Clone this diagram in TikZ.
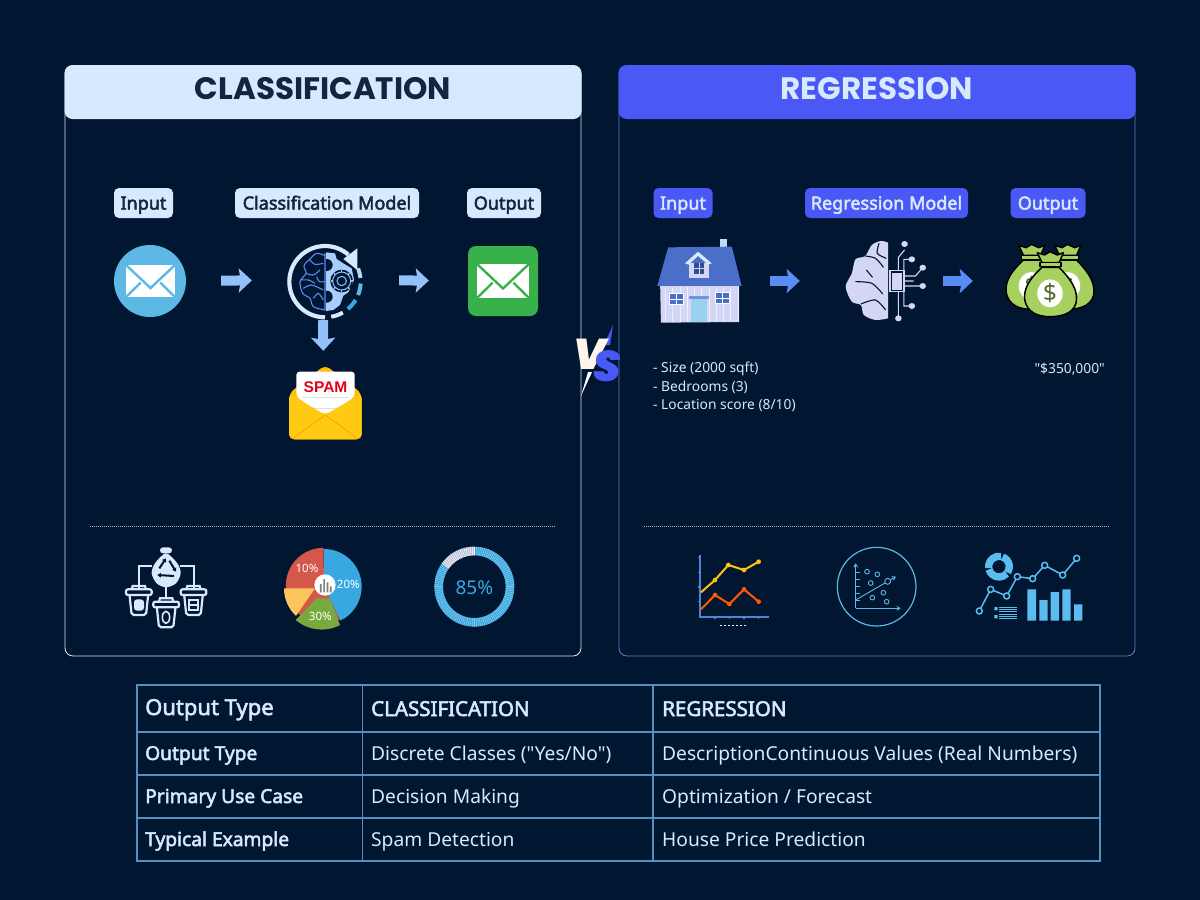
\documentclass[tikz,border=0pt]{standalone}
\usepackage{fontspec}
\usetikzlibrary{arrows.meta}
\newfontfamily\bodyfont{Noto Sans}
\newfontfamily\midfont{Noto Sans}[FakeBold=2.6]
\newfontfamily\headfont{Poppins}
\newfontfamily\versusfont{Poppins Black Italic}
\newfontfamily\spamfont{Liberation Sans}
\definecolor{Navy}{HTML}{011631}
\definecolor{Ice}{HTML}{D6E9FD}
\definecolor{Ink}{HTML}{14233F}
\definecolor{Indigo}{HTML}{4A58F6}
\definecolor{Sky}{HTML}{5DB8E6}
\definecolor{Azure}{HTML}{3AA8E0}
\definecolor{Mint}{HTML}{38B14A}
\definecolor{Lilac}{HTML}{D3D7F5}
\definecolor{Roof}{HTML}{4A6FC9}
\definecolor{Cash}{HTML}{A6D15F}
\definecolor{Rule}{HTML}{5590BE}
\definecolor{Gold}{HTML}{FFCB12}
\definecolor{PaleArrow}{HTML}{93C2FB}
\definecolor{BlueArrow}{HTML}{5A8CF5}
\definecolor{Tomato}{HTML}{D3574A}
\definecolor{Melon}{HTML}{FDC65C}
\definecolor{Grass}{HTML}{77A93D}
\definecolor{Bar}{HTML}{5BBCF0}
\newcommand\fsize[1]{\fontsize{#1}{#1}\selectfont}
% left, top, width, height, colour of the folds
\newcommand\mailglyph[5]{
  \begin{scope}[shift={(#1,#2)},xscale=#3,yscale=#4]
    \fill[white] (0,0) rectangle (1,1);
    \draw[#5,line width=2.4pt] (0,0) -- (.5,.72) -- (1,0);
    \draw[#5,line width=2.4pt] (0,1) -- (.3,.55) (1,1) -- (.7,.55);
  \end{scope}}
% shift and name of the dollar sign
\newcommand\moneybag[3]{
  \begin{scope}[shift={(#1,#2)}]
    \draw[fill=Cash,line width=1.5pt,line join=round]
      (1298,292) .. controls (1270,320) and (1248,350) .. (1250,385)
      .. controls (1255,430) and (1290,440) .. (1320,440)
      .. controls (1360,440) and (1393,425) .. (1393,385)
      .. controls (1393,350) and (1370,320) .. (1345,292) -- cycle;
    \draw[fill=Cash,line width=1.5pt,line join=round]
      (1298,278) -- (1285,248) -- (1305,255) -- (1320,245)
      -- (1340,255) -- (1357,248) -- (1345,278) -- cycle;
    \draw[fill=Cash,line width=1.5pt] (1292,278) rectangle (1350,290);
    \fill[white] (1320,370) ellipse[x radius=35,y radius=42];
    \node[text=Cash!50!black,font=\bodyfont\fsize{24}] (#3) at (1320,370) {\$};
  \end{scope}}
\begin{document}
\begin{tikzpicture}[
  x=1pt,
  y=-1pt,
  inner sep=0pt,
  panel/.style={rounded corners=8pt,line width=.8pt},
  headbox/.style={rounded corners=8pt,minimum width=517,minimum height=54,text height=22pt,text depth=8pt,
    font=\headfont\fsize{31}\bfseries},
  pill/.style={rounded corners=5pt,minimum height=30,text height=15.5pt,text depth=2.5pt,
    font=\midfont\fsize{18}},
  lightpill/.style={pill,fill=Ice,text=Ink},
  bluepill/.style={pill,fill=Indigo,text=Ice},
  flow/.style={line width=10pt,-{Stealth[length=13pt,width=24pt,inset=2pt]}},
  note/.style={text=Ice,anchor=west,font=\bodyfont\fsize{13.8}},
  cell/.style={text=Ice,anchor=base west,font=\bodyfont\fsize{19.2}},
  boldcell/.style={cell,font=\midfont\fsize{19.2}},
  divider/.style={line width=.7pt,dash pattern=on .8pt off 1.2pt,draw=white!70!Navy},
  piece/.style={text=white,font=\bodyfont\fsize{11.5}}
  ]
\fill[Navy] (0,0) rectangle (1200,900);
\useasboundingbox (0,0) rectangle (1200,900);

% panels
\draw[panel,draw=Ice] (65,66) rectangle (581,656);
\draw[panel,draw=Rule!80!Indigo] (619,66) rectangle (1135,656);
\node[headbox,fill=Ice,text=Ink] (classhead) at (323,92) {CLASSIFICATION};
\node[headbox,fill=Indigo,text=Ice] (reghead) at (877,92) {REGRESSION};
\draw[divider] (90,526) -- (555,526);
\draw[divider] (644,526) -- (1109,526);

% labels
\node[lightpill,minimum width=59] (classin) at (143.5,203) {Input};
\node[lightpill,minimum width=184] (classmodel) at (327,203) {Classification Model};
\node[lightpill,minimum width=74] (classout) at (504,203) {Output};
\node[bluepill,minimum width=59] (regin) at (683,203) {Input};
\node[bluepill,minimum width=163] (regmodel) at (886.5,203) {Regression Model};
\node[bluepill,minimum width=75] (regout) at (1048,203) {Output};

% icons, as anchors for the arrows
\node[circle,fill=Sky,minimum size=72] (mailin) at (150,281) {};
\node[circle,minimum size=76] (brainloop) at (325,280) {};
\node[rounded corners=8pt,fill=Mint,minimum width=70,minimum height=70] (mailout) at (503,281) {};
\node[minimum width=73,minimum height=74] (spamicon) at (325.5,402) {};
\node[minimum width=84,minimum height=84] (house) at (699,281) {};
\node[minimum width=80,minimum height=80] (chipbrain) at (887,281) {};
\node[minimum width=90,minimum height=76] (cash) at (1048,281) {};

\draw[flow,draw=PaleArrow,shorten <=35pt,shorten >=35pt] (mailin) -- (brainloop);
\draw[flow,draw=PaleArrow,shorten <=36pt,shorten >=39pt] (brainloop) -- (mailout);
\draw[flow,draw=PaleArrow,shorten <=2pt,shorten >=14pt]
  ([xshift=-2pt]brainloop.south) -- ([xshift=-2pt]spamicon.north);
\draw[flow,draw=BlueArrow,shorten <=29pt,shorten >=47pt] (house.east) -- (chipbrain.west);
\draw[flow,draw=BlueArrow,shorten <=16pt,shorten >=30pt] (chipbrain.east) -- (cash.west);

\mailglyph{126}{265}{49}{32}{Sky}
\mailglyph{477}{264}{52}{34}{Mint}

% brain with gear
\begin{scope}[shift={(280,235)},scale=1/3]
  \draw[Ice,line width=4.2pt] (135,247) arc[start angle=90,end angle=311,radius=107];
  \fill[Ice] (232,40) -- (232,105) -- (190,72) -- cycle;
  \draw[Ice!70!Sky,line width=4pt] (135,140)+(-22:107) arc[start angle=-22,end angle=-6,radius=107];
  \draw[Sky,line width=4pt] (135,140)+(3:107) arc[start angle=3,end angle=22,radius=107];
  \draw[Azure,line width=4pt] (135,140)+(31:107) arc[start angle=31,end angle=50,radius=107];
  \draw[Ice,line width=4pt] (135,140)+(60:107) arc[start angle=60,end angle=80,radius=107];
  \fill[PaleArrow!70!Ice] (138,52) -- (165,55) -- (170,72) -- (190,85) -- (215,100)
    -- (222,135) -- (205,172) -- (190,182) -- (180,210) -- (160,225) -- (138,228) -- cycle;
  \fill[Navy] (185,138) circle[radius=34] (140,90) circle[radius=18] (140,185) circle[radius=18];
  \draw[PaleArrow,line width=1pt] (185,138) circle[radius=27] circle[radius=14];
  \foreach \tooth in {0,45,...,315}{\draw[PaleArrow,line width=1.4pt] (185,138)+(\tooth:27) -- +(\tooth:33);}
  \draw[BlueArrow,line width=1.1pt] (135,55) -- (135,225)
    plot[smooth] coordinates {(135,62) (110,55) (90,72) (72,92) (78,115) (60,140) (68,175) (90,190) (100,215) (135,225)}
    plot[smooth] coordinates {(78,115) (100,120) (120,105)}
    plot[smooth] coordinates {(90,75) (105,88) (130,85)}
    plot[smooth] coordinates {(70,160) (95,150) (130,165)}
    plot[smooth] coordinates {(100,190) (115,175) (130,195)}
    plot[smooth] coordinates {(62,135) (85,135) (105,145)}
    plot[smooth] coordinates {(110,125) (118,140) (132,140)};
\end{scope}

% spam envelope
\begin{scope}[shift={(60,170)},xscale=1/2.96,yscale=1/3]
  \fill[Gold!80!orange,rounded corners=6pt] (678,670) -- (785,585) -- (893,670) -- (893,808) -- (678,808) -- cycle;
  \fill[white,rounded corners=3pt] (700,605) -- (872,605) -- (872,680) -- (785,745) -- (700,680) -- cycle;
  \draw[white!88!black,line width=1pt] (715,683) -- (855,683) (745,715) -- (820,715);
  \fill[Gold,rounded corners=5pt] (678,670) -- (785,735) -- (893,670) -- (893,808) -- (678,808) -- cycle;
  \draw[orange!70!Gold,line width=.6pt] (690,805) -- (785,735) -- (880,805);
  \node[text=red!90!blue,font=\spamfont\fsize{15.5}\bfseries] (spamword) at (786,650) {SPAM};
\end{scope}

% house, chip and money
\begin{scope}[shift={(570,170)},xscale=1/2.75,yscale=1/3]
  \fill[Ice!85!Roof] (412,208) rectangle (432,235);
  \fill[Roof] (240,348) -- (270,232) -- (445,230) -- (472,348) -- cycle;
  \fill[Lilac] (248,348) -- (465,348) -- (465,456) -- (250,458) -- cycle;
  \draw[white!60!Lilac,line width=.5pt] \foreach \w in {262,282,...,462} {(\w,350) -- (\w,455)};
  \fill[Sky!50!Ice] (334,385) rectangle (378,456);
  \fill[Roof!70!Ice] (328,379) rectangle (382,387);
  \foreach \wx/\wy in {272/368,398/365}{
    \fill[white] (\wx,\wy) rectangle ++(42,38);
    \fill[Roof] (\wx+4,\wy+4) rectangle ++(34,30);
    \draw[white,line width=.8pt] (\wx+21,\wy) -- ++(0,38) (\wx,\wy+19) -- ++(42,0);}
  \fill[Lilac] (326,278) rectangle (382,325);
  \fill[Ice] (316,280) -- (352,245) -- (390,280) -- (380,284) -- (352,258) -- (326,284) -- cycle;
  \fill[Roof!70!black] (342,278) rectangle (368,312);
  \draw[Lilac,line width=.8pt] (355,278) -- (355,312) (342,295) -- (368,295);

  \fill[Lilac] plot[smooth] coordinates {(875,218) (855,213) (830,225) (812,258) (785,268)
    (775,310) (758,350) (775,395) (800,405) (808,435) (840,450) (875,445)} -- cycle;
  \draw[Navy,line width=1.1pt]
    plot[smooth] coordinates {(812,258) (840,265) (862,292)}
    plot[smooth] coordinates {(785,335) (830,340) (860,372)}
    plot[smooth] coordinates {(815,300) (832,322)}
    plot[smooth] coordinates {(800,402) (840,390) (868,420)}
    plot[smooth] coordinates {(850,220) (845,250) (870,265)};
  \draw[Lilac,line width=1.4pt,fill=Navy] (880,302) rectangle (918,365);
  \fill[Lilac] (885,308) rectangle (913,359);
  \draw[Lilac,line width=1.1pt] (903,302) -- (903,262) -- (920,240) (918,302) -- (918,268) -- (940,268)
    (918,318) -- (950,318) -- (970,293) (918,348) -- (970,348) (918,365) -- (918,408) -- (940,408)
    (903,365) -- (903,445) (918,333) -- (945,333);
  \fill[Lilac] \foreach \dx/\dy in {920/222,940/268,970/293,970/348,940/408,903/445}{(\dx,\dy) circle[radius=9]};

  \moneybag{48}{-22}{dollarright}
  \moneybag{-51}{-22}{dollarleft}
  \moneybag{0}{0}{dollarfront}
\end{scope}

% what goes in and out
\node[note] (sizeline) at (653,369) {- Size (2000 sqft)};
\node[note] (bedline) at (653,387) {- Bedrooms (3)};
\node[note] (placeline) at (653,405) {- Location score (8/10)};
\node[note,anchor=east] (priceline) at (1105,369) {"\$350,000"};

% VS
\fill[white] (592,372) -- (588,372) -- (581,396) -- cycle;
\fill[Indigo] (613,325) -- (610,345) -- (604,345) -- cycle;
\node[text=white!92!orange,font=\versusfont\fsize{43}] (versusv) at (590,354) {V};
\node[text=Indigo,font=\versusfont\fsize{43}] (versuss) at (607,366) {S};

% recycling
\begin{scope}[shift={(100,530)},scale=1/3]
  \draw[Ice,line width=2pt] (155,107) -- (118,107) -- (118,175) (240,107) -- (283,107) -- (283,175) (198,170) -- (198,205);
  \fill[Ice] plot[smooth cycle] coordinates {(198,70) (165,100) (155,130) (170,160) (198,172) (228,160) (242,130) (232,100)};
  \fill[Ice,rounded corners=3pt] (180,52) rectangle (216,70);
  \draw[Navy,line width=2pt,-{Triangle[length=3.5pt,width=4.5pt]}] (178,115) -- (198,85);
  \draw[Navy,line width=2pt,-{Triangle[length=3.5pt,width=4.5pt]}] (208,92) -- (228,125);
  \draw[Navy,line width=2pt,-{Triangle[length=3.5pt,width=4.5pt]}] (222,138) -- (172,135);
  \foreach \bx/\by/\bkind in {0/0/0,82/37/1,164/0/2}{
    \begin{scope}[shift={(\bx,\by)}]
      \draw[Ice,line width=2.2pt,fill=Navy,rounded corners=2pt] (88,190) -- (95,255) -- (138,255) -- (145,190) -- cycle;
      \draw[Ice,line width=2.2pt,fill=Navy,rounded corners=2pt] (78,178) rectangle (155,195);
      \draw[Ice,line width=2.2pt] (95,178) -- (98,168) -- (135,168) -- (138,178);
      \ifcase\bkind
        \fill[Ice,rounded corners=3pt] (102,208) rectangle (132,242);
      \or
        \draw[Ice,line width=1.6pt] (116,225) ellipse[x radius=11,y radius=18];
      \or
        \draw[Ice,line width=2pt] (103,210) rectangle (130,240) (103,225) -- (130,225);
      \fi
    \end{scope}}
\end{scope}

% pie
\begin{scope}[shift={(100,530)},scale=1/3]
  \fill[Tomato] (672,170) -- (720,268) arc[start angle=64,end angle=270,radius=113] -- cycle;
  \fill[Azure] (672,170) -- (672,57) arc[start angle=270,end angle=424,radius=113] -- cycle;
  \fill[Melon] (645,175) -- (552,175) arc[start angle=180,end angle=133,radius=113] -- cycle;
  \fill[Grass] (595,262) -- (650,205) -- (690,205) -- (720,285) arc[start angle=62,end angle=131,radius=118] -- cycle;
  \fill[white] (675,165) circle[radius=32];
  \fill[gray] \foreach \gx/\gh in {660/25,670/40,680/30,690/18}{(\gx,187) rectangle ++(5,-\gh)};
  \node[piece] (tenpct) at (621,115) {10\%};
  \node[piece] (twentypct) at (745,164) {20\%};
  \node[piece] (thirtypct) at (661,259) {30\%};
\end{scope}

% ring of 85
\begin{scope}[shift={(100,530)},scale=1/3]
  \draw[Azure,line width=8.6pt] (1123,170) circle[radius=107];
  \foreach \a in {270,273,...,576}{\draw[Azure!60!white,line width=.5pt] (1123,170)+(\a:94) -- +(\a:120);}
  \draw[Lilac!70!gray,line width=8.6pt] (1123,170)+(216:107) arc[start angle=216,end angle=270,radius=107];
  \foreach \a in {216,219,...,270}{\draw[white,line width=.5pt] (1123,170)+(\a:94) -- +(\a:120);}
  \node[text=Azure,font=\bodyfont\fsize{19}] (ringpct) at (1123,173) {85\%};
\end{scope}

% charts on the right
\begin{scope}[shift={(660,530)},scale=1/3]
  \draw[Roof!70!Sky,line width=2pt] (120,75) -- (120,260) -- (328,260);
  \foreach \tk in {83,127,171,215}{\draw[Roof!70!Sky,line width=1.3pt] (114,\tk) -- (120,\tk);}
  \foreach \tk in {165,208,252,296}{\draw[Roof!70!Sky,line width=1.3pt] (\tk,260) -- (\tk,268);}
  \draw[Ice,line width=1.6pt,dash pattern=on 2pt off 2pt] (180,287) -- (262,287);
  \draw[Gold!90!orange,line width=2pt] (123,187) -- (165,150) -- (205,105) -- (252,120) -- (296,95);
  \draw[orange!70!red,line width=2pt] (123,238) -- (165,195) -- (208,222) -- (252,178) -- (296,215);
  \fill[Gold!90!orange] \foreach \px/\py in {165/150,205/105,252/120,296/95}{(\px,\py) circle[radius=7]};
  \fill[orange!70!red] \foreach \px/\py in {165/195,208/222,252/178,296/215}{(\px,\py) circle[radius=7]};

  \draw[Sky,line width=1.2pt] (650,170) circle[radius=118];
  \draw[Sky,line width=.9pt,-{Straight Barb[length=3pt,width=4pt]}] (587,235) -- (587,100);
  \draw[Sky,line width=.9pt,-{Straight Barb[length=3pt,width=4pt]}] (587,235) -- (722,235);
  \foreach \tk in {127,148,170,190,212}{\draw[Sky,line width=.8pt] (587,\tk) -- (600,\tk);}
  \draw[Sky,line width=.9pt] (587,210) -- (675,159);
  \draw[Sky,line width=.9pt,-{Straight Barb[length=3pt,width=4pt]}] (691,149) -- (708,140);
  \draw[Sky,line width=.9pt] (683,154) circle[radius=9];
  \draw[Sky,line width=.9pt] \foreach \px/\py in {621/125,652/133,632/159,670/188,637/203,680/215}{(\px,\py) circle[radius=7]};

  \foreach \arcfrom/\arcto in {-70/35,42/165,172/282}{
    \draw[Bar,line width=7.3pt] (1017,110)+(\arcfrom:31) arc[start angle=\arcfrom,end angle=\arcto,radius=31];}
  \draw[Bar,line width=1.5pt] (958,243) -- (992,178) -- (1040,198) -- (1072,140) -- (1118,146) -- (1154,106) -- (1208,135) -- (1250,85);
  \draw[Bar,line width=1.5pt,fill=Navy] \foreach \px/\py in {958/243,992/178,1040/198,1072/140,1118/146,1154/106,1208/135,1250/85}{(\px,\py) circle[radius=9]};
  \fill[Bar] \foreach \bx/\by/\bw in {1102/178/26,1138/210/25,1172/186/25,1207/178/25,1242/223/25}{(\bx,\by) rectangle (\bx+\bw,272)};
  \fill[Bar] (1003,231) rectangle (1013,241) (1003,255) rectangle (1013,265);
  \draw[Bar,line width=.7pt] \foreach \ly in {232,238,244,254,260,266}{(1018,\ly) -- (1070,\ly)};
\end{scope}

% table
\draw[Rule,line width=1.3pt] (137,685) rectangle (1100,861);
\draw[Rule,line width=1.3pt] (362.5,685) -- (362.5,861) (653,685) -- (653,861);
\foreach \ruley in {732,775,818}{\draw[Rule,line width=1.3pt] (137,\ruley) -- (1100,\ruley);}
\node[boldcell,font=\midfont\fsize{22}] (toplab) at (145,715) {Output Type};
\node[boldcell,font=\midfont\fsize{20.5}] (topclass) at (371,716) {CLASSIFICATION};
\node[boldcell,font=\midfont\fsize{20.5}] (topreg) at (662,716) {REGRESSION};
\foreach \rowname/\rowy/\lab/\classval/\regval in {
  kind/760/{Output Type}/{Discrete Classes ("Yes/No")}/{DescriptionContinuous Values (Real Numbers)},
  use/803/{Primary Use Case}/{Decision Making}/{Optimization / Forecast},
  case/846/{Typical Example}/{Spam Detection}/{House Price Prediction}}{
  \node[boldcell] (\rowname lab) at (145,\rowy) {\lab};
  \node[cell] (\rowname class) at (371,\rowy) {\classval};
  \node[cell] (\rowname reg) at (662,\rowy) {\regval};}
\end{tikzpicture}
\end{document}
